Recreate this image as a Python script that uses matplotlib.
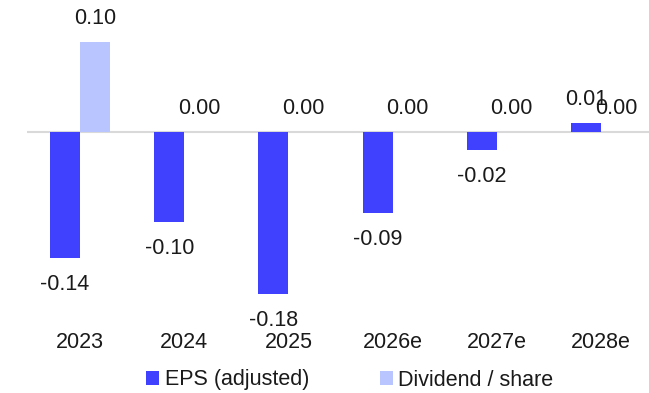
import matplotlib
matplotlib.use("Agg")
import matplotlib.pyplot as plt
import numpy as np

plt.rcParams['font.family'] = ['Liberation Sans', 'DejaVu Sans']

years = ["2023", "2024", "2025", "2026e", "2027e", "2028e"]
eps = [-0.14, -0.10, -0.18, -0.09, -0.02, 0.01]
dividend = [0.10, 0.00, 0.00, 0.00, 0.00, 0.00]

eps_color = "#4040FF"
div_color = "#B8C5FF"
text_color = "#1a1a1a"
fs = 15.5

W, H = 649, 393
fig = plt.figure(figsize=(W / 100, H / 100), dpi=100)
ax_top, ax_bottom = 5, 320
ax = fig.add_axes([27 / W, 1 - ax_bottom / H, 622 / W, (ax_bottom - ax_top) / H])

x = np.arange(len(years))
bw = 0.288
ax.bar(x - bw / 2, eps, bw, color=eps_color, label="EPS (adjusted)", zorder=2)
ax.bar(x + bw / 2, dividend, bw, color=div_color, label="Dividend / share", zorder=2)

ax.axhline(0, color="#d9d9d9", lw=1.5, zorder=1)

px_per_cat = 104.2
ax.set_xlim((27 - 80) / px_per_cat, (649 - 80) / px_per_cat)
zero_px = 132
ax.set_ylim(-(ax_bottom - zero_px) / 900, (zero_px - ax_top) / 900)

off_up = 23 / 900
off_down = 26.5 / 900
for xi, v in zip(x, eps):
    y = v + off_up if v > 0 else v - off_down
    ax.text(xi - bw / 2, y, f"{v:.2f}", ha="center", va="center",
            fontsize=fs, color=text_color)
for xi, v in zip(x, dividend):
    ax.text(xi + bw / 2, v + off_up, f"{v:.2f}", ha="center", va="center",
            fontsize=fs, color=text_color)

ax.set_xticks(x)
ax.set_xticklabels(years, fontsize=fs, color=text_color)
ax.tick_params(axis="x", length=0, pad=8.5)
ax.set_yticks([])
for s in ax.spines.values():
    s.set_visible(False)

fig.legend(loc="center", bbox_to_anchor=(350 / W, 1 - 380 / H), ncol=2,
           frameon=False, fontsize=fs, handlelength=0.6, handleheight=0.6,
           handletextpad=0.25, columnspacing=3.3, labelcolor=text_color,
           borderpad=0, borderaxespad=0)

fig.savefig("out.png", dpi=100)
